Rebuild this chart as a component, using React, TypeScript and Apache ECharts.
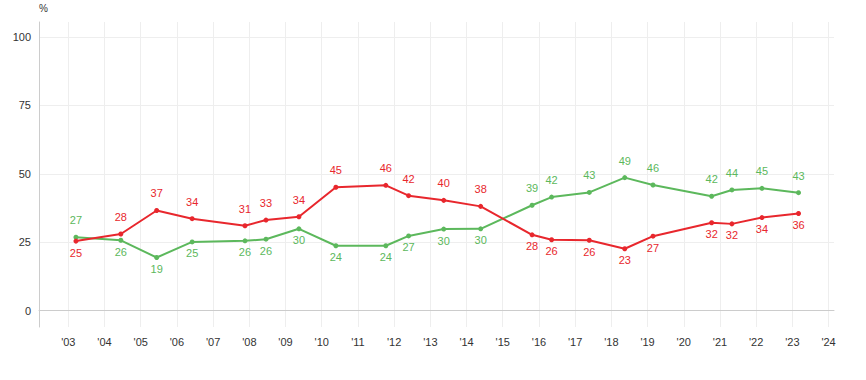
import React, { useEffect, useRef } from "react";
import * as echarts from "echarts";

const years = [
  2003.21, 2004.45, 2005.44, 2006.42, 2007.88, 2008.46, 2009.37, 2010.39, 2011.77, 2012.4,
  2013.37, 2014.39, 2015.81, 2016.35, 2017.39, 2018.37, 2019.15, 2020.77, 2021.33, 2022.16, 2023.17,
];
const redValues = [
  25.4, 28.0, 36.6, 33.6, 31.0, 33.1, 34.3, 45.1, 45.8, 42.0,
  40.3, 38.1, 27.7, 25.9, 25.7, 22.6, 27.2, 32.1, 31.7, 34.0, 35.5,
];
const greenValues = [
  26.8, 25.7, 19.4, 25.1, 25.5, 26.1, 29.9, 23.7, 23.7, 27.3,
  29.8, 29.9, 38.5, 41.5, 43.2, 48.6, 45.9, 41.8, 44.1, 44.7, 43.1,
];
const yTicks = [0, 25, 50, 75, 100];
const xTicks = [
  2003, 2004, 2005, 2006, 2007, 2008, 2009, 2010, 2011, 2012, 2013,
  2014, 2015, 2016, 2017, 2018, 2019, 2020, 2021, 2022, 2023, 2024,
];

const RED = "#e8272d";
const GREEN = "#5cb85c";
const FONT = "Liberation Sans, Arial, sans-serif";

function buildData(values: number[], other: number[]) {
  return values.map((v, i) => {
    const above = v >= other[i];
    return {
      value: [years[i], v],
      label: {
        position: above ? "top" : "bottom",
        distance: above ? 9 : 3.5,
      },
    };
  });
}

export default function App() {
  const ref = useRef<HTMLDivElement>(null);
  useEffect(() => {
    document.body.style.margin = "0";
    if (!ref.current) return;
    const chart = echarts.init(ref.current, null, { renderer: "svg" });
    const mkSeries = (name: string, color: string, values: number[], other: number[]) => ({
      name,
      type: "line",
      data: buildData(values, other),
      symbol: "circle",
      symbolSize: 5,
      lineStyle: { color, width: 2 },
      itemStyle: { color },
      label: {
        show: true,
        color,
        fontSize: 11,
        fontFamily: FONT,
        formatter: (p: any) => String(Math.round(p.value[1])),
      },
    });
    chart.setOption({
      animation: false,
      grid: { left: 39, right: 32, top: 22, bottom: 53 },
      xAxis: {
        type: "value",
        min: 2002.19,
        max: 2024.15,
        axisLine: { show: true, lineStyle: { color: "#cccccc" } },
        axisTick: { show: false, customValues: xTicks },
        axisLabel: {
          customValues: xTicks,
          color: "#333333",
          fontSize: 11,
          fontFamily: FONT,
          margin: 9,
          formatter: (v: number) => "'" + String(Math.round(v)).slice(2),
        },
        splitLine: { show: true, lineStyle: { color: "#eeeeee" } },
      },
      yAxis: {
        type: "value",
        min: -6,
        max: 105.5,
        name: "%",
        nameLocation: "end",
        nameGap: 9,
        nameTextStyle: { color: "#333333", fontSize: 10, fontFamily: FONT, align: "left" },
        axisLine: { show: true, lineStyle: { color: "#cccccc" } },
        axisTick: { show: false, customValues: yTicks },
        axisLabel: {
          customValues: yTicks,
          color: "#333333",
          fontSize: 11,
          fontFamily: FONT,
          margin: 8,
        },
        splitLine: { show: true, lineStyle: { color: "#eeeeee" } },
      },
      series: [
        mkSeries("green", GREEN, greenValues, redValues),
        mkSeries("red", RED, redValues, greenValues),
      ],
    });
    return () => chart.dispose();
  }, []);
  return <div ref={ref} style={{ width: 866, height: 380 }} />;
}
